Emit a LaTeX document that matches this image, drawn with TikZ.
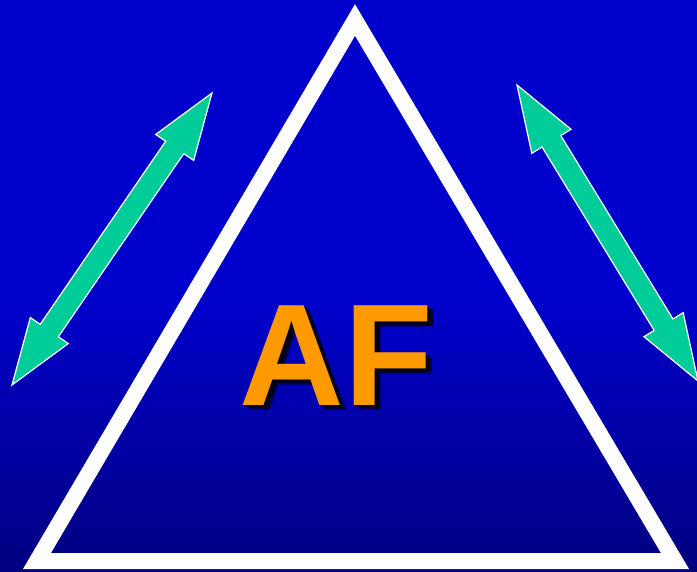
\documentclass[tikz,border=0pt]{standalone}
\usepackage{fontspec}
\setmainfont{Liberation Sans}
\usetikzlibrary{calc}
\definecolor{bgtop}{HTML}{0000CC}
\definecolor{bgbot}{HTML}{000080}
\definecolor{arrowgreen}{HTML}{00CC99}
\definecolor{aforange}{HTML}{FF9900}
\definecolor{softshadow}{HTML}{000040}
\definecolor{hardshadow}{HTML}{000010}

% text with a drop shadow behind it
\newcommand{\shadowed}[1]{%
  \makebox[0pt][l]{\hspace{6pt}\raisebox{-5pt}{\textcolor{softshadow}{#1}}}%
  \makebox[0pt][l]{\hspace{4pt}\raisebox{-3pt}{\textcolor{hardshadow}{#1}}}%
  \textcolor{aforange}{#1}}

% double block arrow between two tips
\newcommand{\dblarrow}[2]{%
  \draw[blockarrow] (#1)
    -- ($(#1)!66pt!(#2)!23pt!90:(#2)$)
    -- ($(#1)!66pt!(#2)!11pt!90:(#2)$)
    -- ($(#2)!66pt!(#1)!11pt!-90:(#1)$)
    -- ($(#2)!66pt!(#1)!23pt!-90:(#1)$)
    -- (#2)
    -- ($(#2)!66pt!(#1)!23pt!90:(#1)$)
    -- ($(#2)!66pt!(#1)!11pt!90:(#1)$)
    -- ($(#1)!66pt!(#2)!11pt!-90:(#2)$)
    -- ($(#1)!66pt!(#2)!23pt!-90:(#2)$)
    -- cycle;}

\begin{document}
\begin{tikzpicture}[x=1pt, y=-1pt,
    blockarrow/.style={fill=arrowgreen, draw=white, line width=1.2pt, line join=miter},
    frame/.style={draw=white, line width=16pt, line join=miter},
    shadowline/.style={draw=black, line width=16pt, line join=miter},
    label/.style={font=\bfseries\fontsize{145}{145}\selectfont, inner sep=0pt, anchor=base},
]
\useasboundingbox (0,0) rectangle (697,572);
% background
\fill[bgtop] (0,0) rectangle (697,300);
\shade[top color=bgtop, bottom color=bgbot] (0,299) rectangle (697,572);

% triangle
\coordinate (apex) at (355,20);
\coordinate (baseL) at (37,561);
\coordinate (baseR) at (675,561);
\draw[shadowline, opacity=0.2, shift={(7,7)}] (apex) -- (baseL) -- (baseR) -- cycle;
\draw[shadowline, opacity=0.3, shift={(4,4)}] (apex) -- (baseL) -- (baseR) -- cycle;
\draw[frame] (apex) -- (baseL) -- (baseR) -- cycle;

% arrows
\coordinate (lA) at (12,385);
\coordinate (lB) at (212,93);
\coordinate (rA) at (517,85);
\coordinate (rB) at (698,381);
\dblarrow{lA}{lB}
\dblarrow{rA}{rB}

% label
\node[label] (af) at (336,406) {\shadowed{AF}};
\end{tikzpicture}
\end{document}
